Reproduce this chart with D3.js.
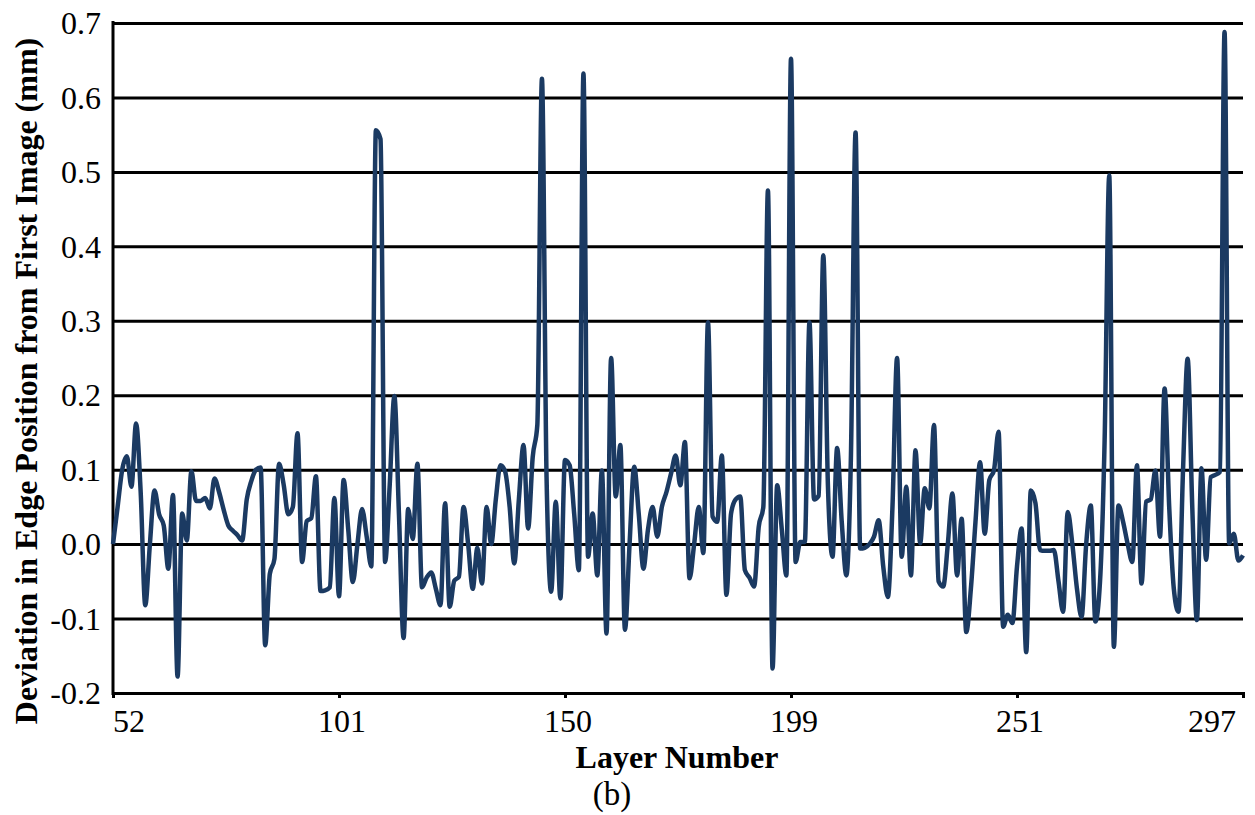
<!DOCTYPE html>
<html>
<head>
<meta charset="utf-8">
<script src="https://cdn.jsdelivr.net/npm/d3@7"></script>
<style>
  body { margin: 0; background: #fff; }
  text { font-family: "Liberation Serif", "Times New Roman", serif; fill: #000; }
</style>
</head>
<body>
<svg width="1255" height="815"></svg>
<script>
var w = 1255;
var h = 815;

// layer labels shown on the x axis, and the index of the point they sit under
var tickLabels = [52, 101, 150, 199, 251, 297];
var tickIndex = [0, 49, 98, 147, 196, 245];

var yTicks = [-0.2, -0.1, 0.0, 0.1, 0.2, 0.3, 0.4, 0.5, 0.6, 0.7];

// deviation (mm), one value per imaged layer
var deviation = [
  0, 0.05, 0.10, 0.118, 0.077, 0.162, 0.07, -0.082, 0.0, 0.072,
  0.04, 0.025, -0.033, 0.066, -0.178, 0.041, 0.005, 0.098, 0.058, 0.058,
  0.062, 0.048, 0.088, 0.07, 0.046, 0.025, 0.018, 0.012, 0.005, 0.06,
  0.085, 0.1, 0.103, -0.136, -0.04, -0.02, 0.108, 0.08, 0.04, 0.05,
  0.149, -0.024, 0.031, 0.035, 0.091, -0.063, -0.062, -0.058, 0.062, -0.070,
  0.086, 0.02, -0.051, 0.0, 0.047, 0.01, -0.03, 0.556, 0.544, -0.024,
  0.08, 0.199, 0.04, -0.126, 0.047, 0.007, 0.108, -0.058, -0.045, -0.038,
  -0.06, -0.082, 0.055, -0.084, -0.049, -0.044, 0.050, 0.0, -0.060, -0.005,
  -0.053, 0.050, 0.0, 0.06, 0.106, 0.098, 0.05, -0.026, 0.06, 0.133,
  0.021, 0.117, 0.16, 0.625, 0.09, -0.064, 0.057, -0.073, 0.113, 0.106,
  0.04, -0.035, 0.632, -0.017, 0.041, -0.042, 0.099, -0.120, 0.25, 0.064,
  0.133, -0.115, 0.0, 0.104, 0.04, -0.033, 0.02, 0.050, 0.010, 0.050,
  0.07, 0.095, 0.119, 0.079, 0.137, -0.046, 0.0, 0.05, -0.012, 0.298,
  0.037, 0.03, 0.119, -0.068, 0.041, 0.06, 0.064, -0.035, -0.045, -0.057,
  0.023, 0.05, 0.475, -0.167, 0.079, 0.02, -0.042, 0.652, -0.024, 0.003,
  0.003, 0.298, 0.06, 0.065, 0.388, 0.08, -0.017, 0.129, 0.03, -0.042,
  0.12, 0.553, -0.006, -0.005, 0.0, 0.010, 0.032, -0.03, -0.071, 0.05,
  0.25, -0.017, 0.077, -0.042, 0.126, 0.001, 0.075, 0.048, 0.160, -0.05,
  -0.057, 0.0, 0.068, -0.042, 0.034, -0.118, -0.06, 0.03, 0.110, 0.014,
  0.086, 0.099, 0.151, -0.111, -0.095, -0.106, -0.03, 0.021, -0.145, 0.072,
  0.055, -0.008, -0.009, -0.009, -0.008, -0.05, -0.091, 0.043, 0.0, -0.06,
  -0.098, 0.0, 0.052, -0.104, -0.05, 0.14, 0.495, -0.138, 0.052, 0.03,
  0.0, -0.024, 0.106, -0.053, 0.057, 0.06, 0.099, 0.010, 0.209, 0.05,
  -0.06, -0.091, 0.1, 0.249, 0.05, -0.102, 0.102, -0.021, 0.09, 0.093,
  0.097, 0.688, 0.001, 0.014, -0.022, -0.015
];

// plot box (note: "top" is taken by window.top, so use other names)
var plotL = 113, plotR = 1243, plotT = 23, plotB = 693;

var svg = d3.select("svg")
    .attr("viewBox", "0 0 " + w + " " + h);

var x = d3.scaleLinear()
    .domain([0, deviation.length - 1])
    .range([plotL, plotR]);

var y = d3.scaleLinear()
    .domain([-0.2, 0.7])
    .range([plotB, plotT]);

// horizontal grid lines
svg.append("g")
    .attr("transform", "translate(" + plotL + ",0)")
    .call(d3.axisLeft(y).tickValues(yTicks).tickSize(-(plotR - plotL)).tickFormat(""))
    .call(function(g) {
        g.select(".domain").remove();
        g.selectAll(".tick line").attr("stroke", "#000").attr("stroke-width", 3);
    });

// y tick labels (plain hyphen for the minus, like the original)
svg.selectAll("text.ylab")
    .data(yTicks)
    .enter()
    .append("text")
    .attr("class", "ylab")
    .attr("x", 101)
    .attr("y", function(d) { return y(d); })
    .attr("dy", "0.35em")
    .attr("text-anchor", "end")
    .style("font-size", "32px")
    .text(function(d) { return d.toFixed(1); });

// y axis line
svg.append("line")
    .attr("x1", plotL).attr("x2", plotL)
    .attr("y1", plotT - 2).attr("y2", plotB + 2)
    .attr("stroke", "#000")
    .attr("stroke-width", 3);

// x axis with small ticks
svg.append("g")
    .attr("transform", "translate(0," + plotB + ")")
    .call(d3.axisBottom(x).tickValues(tickIndex).tickSize(5).tickFormat(""))
    .call(function(g) {
        g.select(".domain").attr("stroke", "#000").attr("stroke-width", 3);
        g.selectAll(".tick line").attr("stroke", "#000").attr("stroke-width", 3);
    });

svg.selectAll("text.xlab")
    .data(tickIndex)
    .enter()
    .append("text")
    .attr("class", "xlab")
    .attr("x", function(d, i) {
        if (i == tickIndex.length - 1) return x(d) - 7;
        if (i == 0) return x(d);
        return x(d) + 3;
    })
    .attr("y", 732)
    .attr("text-anchor", function(d, i) {
        if (i == 0) return "start";
        if (i == tickIndex.length - 1) return "end";
        return "middle";
    })
    .style("font-size", "32px")
    .text(function(d, i) { return tickLabels[i]; });

// the series
var line = d3.line()
    .x(function(d, i) { return x(i); })
    .y(function(d) { return y(d); })
    .curve(d3.curveMonotoneX);

svg.append("path")
    .datum(deviation)
    .attr("d", line)
    .attr("fill", "none")
    .attr("stroke", "#1b3a62")
    .attr("stroke-width", 4.5)
    .attr("stroke-linejoin", "round");

// titles
svg.append("text")
    .attr("transform", "translate(37,381) rotate(-90)")
    .attr("text-anchor", "middle")
    .style("font-size", "32px")
    .style("font-weight", "bold")
    .text("Deviation in Edge Position from First Image (mm)");

svg.append("text")
    .attr("x", 677)
    .attr("y", 768)
    .attr("text-anchor", "middle")
    .style("font-size", "32px")
    .style("font-weight", "bold")
    .text("Layer Number");

svg.append("text")
    .attr("x", 612)
    .attr("y", 805)
    .attr("text-anchor", "middle")
    .style("font-size", "33px")
    .text("(b)");
</script>
</body>
</html>
